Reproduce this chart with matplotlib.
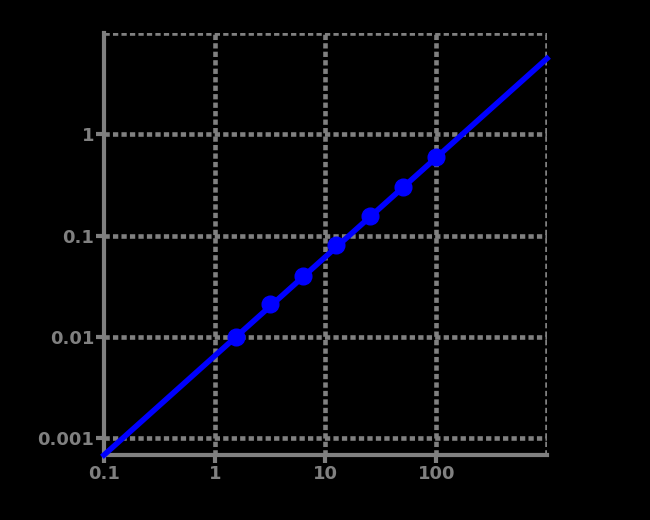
#!/usr/bin/env python3
'''standard curve on log-log axes'''
import matplotlib
matplotlib.use('Agg')
import matplotlib.pyplot as plt

# measured points
conc   = [1.5625, 3.125, 6.25, 12.5, 25, 50, 100]
signal = [0.0100, 0.0211, 0.0399, 0.0806, 0.156, 0.300, 0.593]

# fitted line, read at the ends of the axis
fit_x = [0.1, 1000]
fit_y = [0.00068, 5.6]

xticks = [0.1, 1, 10, 100]
xtick_labels = ['0.1', '1', '10', '100']
yticks = [0.001, 0.01, 0.1, 1]
ytick_labels = ['0.001', '0.01', '0.1', '1']

grey = '#808080'
blue = '#0000ff'

fig = plt.figure(figsize=(6.5, 5.2), dpi=100, facecolor='black')
ax = fig.add_axes([0.16, 0.125, 0.6815, 0.8115])
ax.set_facecolor('black')

ax.set_xscale('log')
ax.set_yscale('log')
ax.set_xlim(0.1, 1000)
ax.set_ylim(0.00068, 10)

# dotted grid, including the far edges at 1000 and 10
dots = (0, (1.15, 0.7))
for x in xticks[1:] + [1000]:
    ax.axvline(x, color=grey, lw=3.3, ls=dots, zorder=1)
for y in yticks + [10]:
    ax.axhline(y, color=grey, lw=3.3, ls=dots, zorder=1)

ax.plot(fit_x, fit_y, color=blue, lw=4, zorder=3, clip_on=False)
ax.plot(conc, signal, 'o', color=blue, ms=12, zorder=4)

ax.set_xticks(xticks)
ax.set_xticklabels(xtick_labels)
ax.set_yticks(yticks)
ax.set_yticklabels(ytick_labels)
ax.minorticks_off()
ax.tick_params(colors=grey, width=3, length=6, labelsize=13, pad=1)
for lab in ax.get_xticklabels() + ax.get_yticklabels():
    lab.set_fontweight('bold')

for side in ('top', 'right'):
    ax.spines[side].set_visible(False)
for side in ('left', 'bottom'):
    ax.spines[side].set_color(grey)
    ax.spines[side].set_linewidth(3)

fig.savefig('out.png', dpi=100, facecolor='black')
